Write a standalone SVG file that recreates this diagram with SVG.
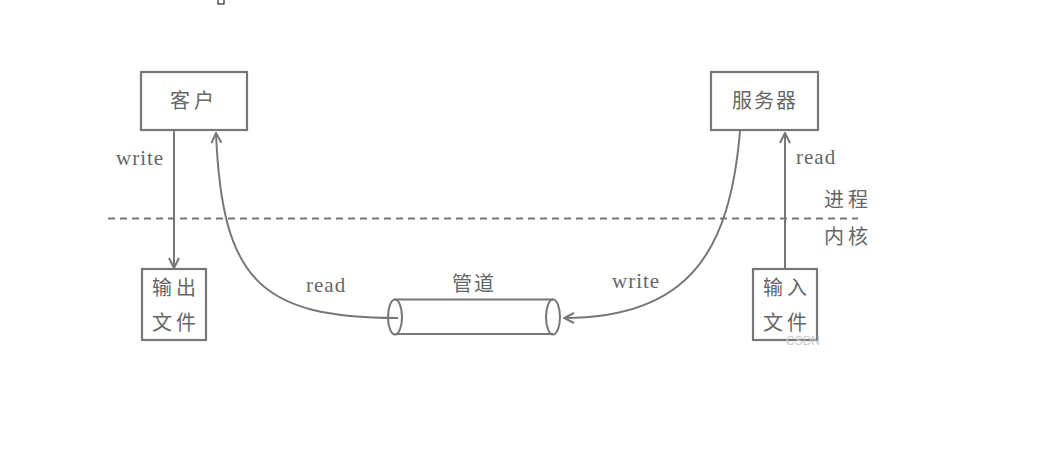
<svg xmlns="http://www.w3.org/2000/svg" width="1038" height="463" viewBox="0 0 1038 463">
<style>
.box{fill:#fff;stroke:#777;stroke-width:2.2}
.ln{fill:none;stroke:#777;stroke-width:2}
.en{font-family:"Liberation Serif",serif;font-size:21px;letter-spacing:1px;fill:#666}
.zh{font-family:"Noto Sans CJK SC",sans-serif;font-size:20px;fill:#666}
</style>
<defs>
<marker id="ah" viewBox="0 0 12 12" refX="11" refY="6" markerWidth="12" markerHeight="12" markerUnits="userSpaceOnUse" orient="auto">
<path d="M1,1 L11,6 L1,11" fill="none" stroke="#777" stroke-width="2"/>
</marker>
</defs>
<rect x="218" y="-2" width="6" height="6" fill="none" stroke="#000" stroke-width="1"/>
<line x1="108" y1="218.5" x2="858" y2="218.5" stroke="#777" stroke-width="2" stroke-dasharray="7,5"/>
<g id="connectors">
<line class="ln" x1="174" y1="131" x2="174" y2="268" marker-end="url(#ah)"/>
<line class="ln" x1="785" y1="269" x2="785" y2="133" marker-end="url(#ah)"/>
<path class="ln" d="M398,318 C260,318 222,280 216,133" marker-end="url(#ah)"/>
<path class="ln" d="M740,131 C730,250 690,318 564,318" marker-end="url(#ah)"/>
</g>
<g id="client">
<rect class="box" x="141" y="72" width="106" height="58"/>
<text class="zh" x="194" y="108" text-anchor="middle" letter-spacing="4">客户</text>
</g>
<g id="server">
<rect class="box" x="711" y="72" width="107" height="58"/>
<text class="zh" x="765" y="108" text-anchor="middle" letter-spacing="2">服务器</text>
</g>
<g id="outfile">
<rect class="box" x="142" y="269" width="64" height="71"/>
<text class="zh" x="176" y="295" text-anchor="middle" letter-spacing="4">输出</text>
<text class="zh" x="176" y="330" text-anchor="middle" letter-spacing="4">文件</text>
</g>
<g id="infile">
<rect class="box" x="753" y="269" width="64" height="71"/>
<text class="zh" x="787" y="295" text-anchor="middle" letter-spacing="4">输入</text>
<text class="zh" x="787" y="330" text-anchor="middle" letter-spacing="4">文件</text>
</g>
<g id="pipe">
<path class="ln" d="M395,299.5 L553,299.5 M395,334 L553,334"/>
<ellipse class="ln" cx="395" cy="317" rx="7" ry="17.5" fill="#fff"/>
<ellipse class="ln" cx="553" cy="317" rx="7" ry="17.5"/>
<text class="zh" x="474" y="291" text-anchor="middle" font-size="24" letter-spacing="2">管道</text>
</g>
<text class="en" x="116" y="165">write</text>
<text class="en" x="306" y="292">read</text>
<text class="en" x="612" y="288">write</text>
<text class="en" x="796" y="164">read</text>
<text class="zh" x="824" y="207" letter-spacing="4">进程</text>
<text class="zh" x="824" y="244" letter-spacing="4">内核</text>
<text x="786" y="345" font-family="Liberation Sans,sans-serif" font-size="12" fill="#ccc">CSDN</text>
</svg>
